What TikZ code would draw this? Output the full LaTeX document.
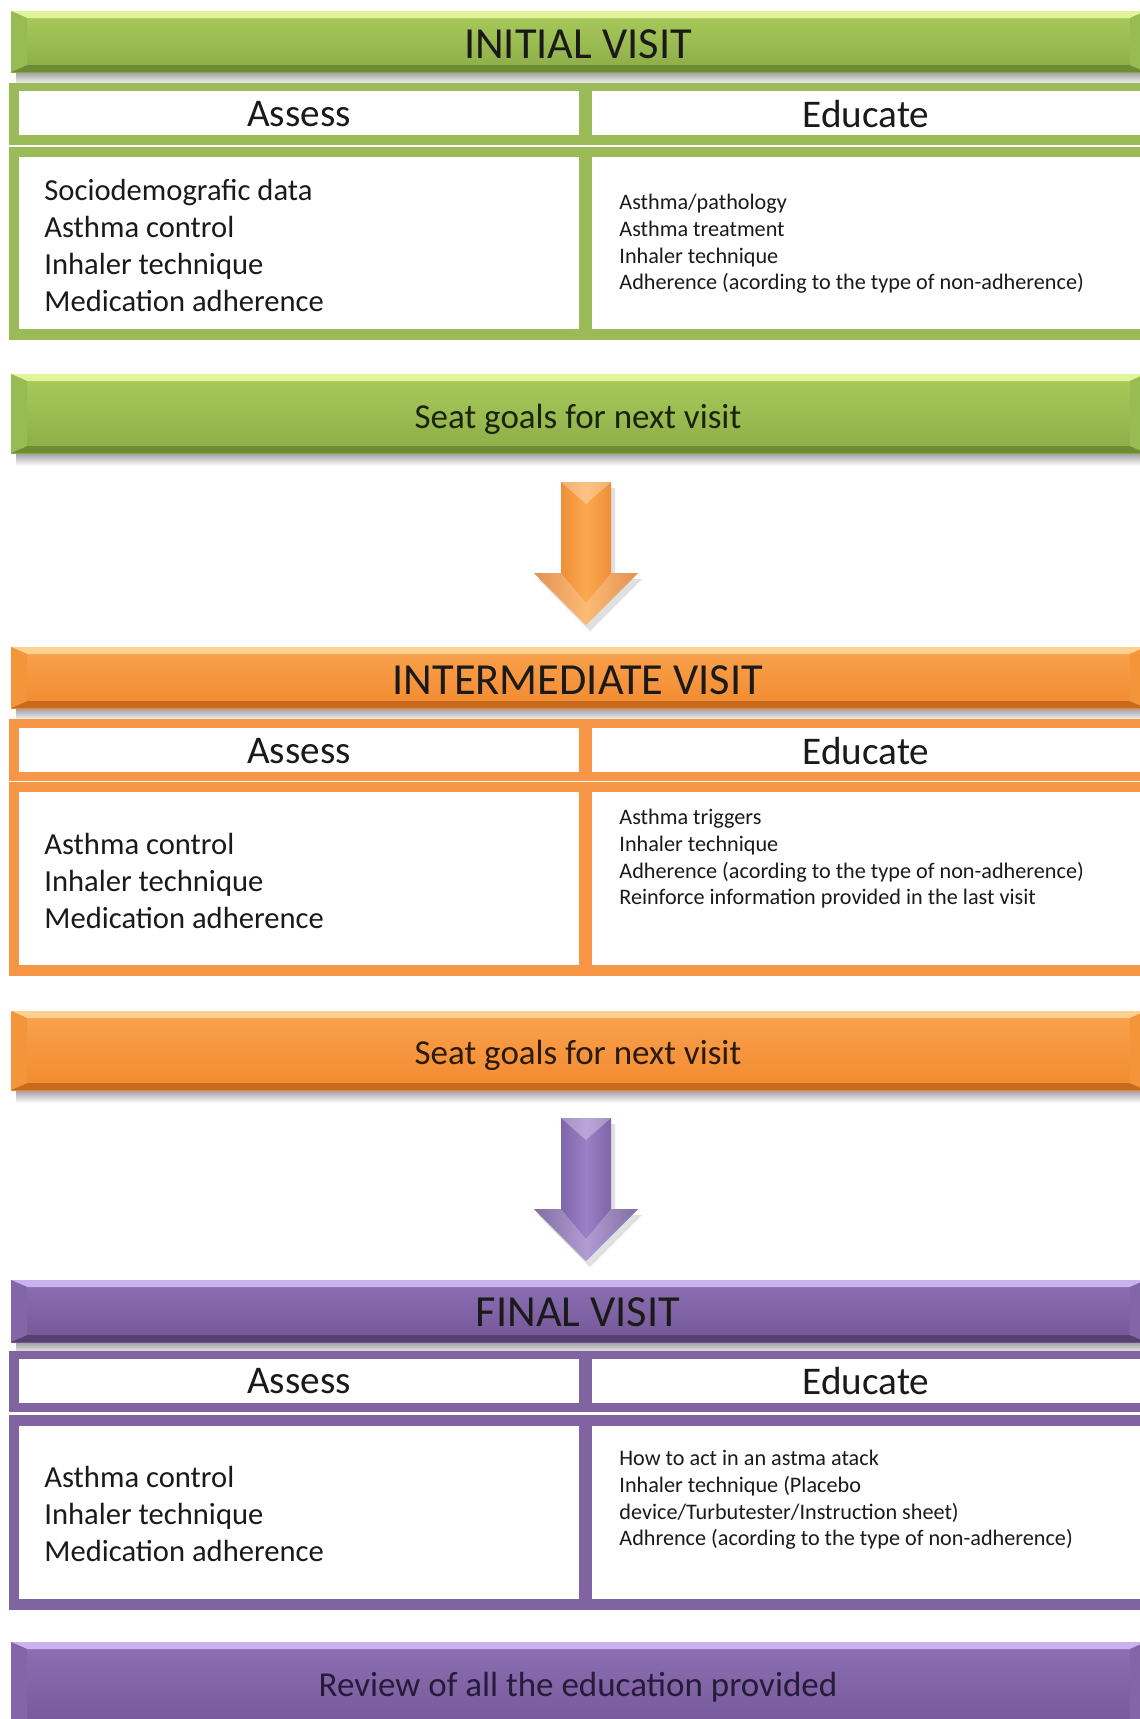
\documentclass[tikz,border=0pt]{standalone}
\usepackage{fontspec}
\setmainfont{Carlito}
\usetikzlibrary{calc}

% colour schemes: g = green, o = orange, p = purple
\definecolor{gFrame}{HTML}{9BBB59}
\definecolor{gTop}{HTML}{E2F49A}
\definecolor{gFaceA}{HTML}{A9CB5C}
\definecolor{gFaceB}{HTML}{8CAD47}
\definecolor{gBot}{HTML}{6E8C36}
\definecolor{gSide}{HTML}{98BB52}
\definecolor{gText}{HTML}{1A240C}

\definecolor{oFrame}{HTML}{F79646}
\definecolor{oTop}{HTML}{FFD08E}
\definecolor{oFaceA}{HTML}{FAA24E}
\definecolor{oFaceB}{HTML}{F28A30}
\definecolor{oBot}{HTML}{C86A1E}
\definecolor{oSide}{HTML}{F4953C}
\definecolor{oText}{HTML}{2A1A08}
\definecolor{oEdge}{HTML}{DC7420}
\definecolor{oMid}{HTML}{FCA84E}

\definecolor{pFrame}{HTML}{8064A2}
\definecolor{pTop}{HTML}{C9B2EE}
\definecolor{pFaceA}{HTML}{8C70B4}
\definecolor{pFaceB}{HTML}{735796}
\definecolor{pBot}{HTML}{55406F}
\definecolor{pSide}{HTML}{8266A8}
\definecolor{pText}{HTML}{261B38}
\definecolor{pEdge}{HTML}{5F4787}
\definecolor{pMid}{HTML}{9C80C8}

\definecolor{inkDark}{HTML}{1A1A1A}

% bevelled banner spanning the page width
\newcommand{\bevelbar}[3]{%
  \shade[top color=black!38, bottom color=white] (16,#3) rectangle (1146,#3+13);
  \shade[top color=#1FaceA, bottom color=#1FaceB] (11,#2) rectangle (1146,#3);
  \fill[#1Top] (11,#2) -- (1146,#2) -- (1130,#2+7) -- (27,#2+7) -- cycle;
  \fill[#1Bot] (11,#3) -- (1146,#3) -- (1130,#3-7) -- (27,#3-7) -- cycle;
  \fill[#1Side] (11,#2) -- (27,#2+7) -- (27,#3-7) -- (11,#3) -- cycle;
  \fill[#1Side] (1146,#2) -- (1130,#2+7) -- (1130,#3-7) -- (1146,#3) -- cycle;
}
% coloured frame holding two white cells
\newcommand{\cellframe}[5]{%
  \fill[#1Frame] (9,#2) rectangle (1150,#3);
  \fill[white] (19,#4) rectangle (579,#5);
  \fill[white] (592,#4) rectangle (1150,#5);
}
% bevelled block arrow pointing down from a top-centre coordinate
\newcommand{\blockdown}[2]{%
  \fill[black, opacity=0.12] ($(#1)+(4,6)$) -- ++(25,0) -- ++(0,91) -- ++(27,0)
     -- ++(-52,52) -- ++(-52,-52) -- ++(27,0) -- ++(0,-91) -- cycle;
  \shade[left color=#2Edge, right color=#2Edge, middle color=#2Mid] (#1)
     -- ++(25,0) -- ++(0,91) -- ++(27,0) -- ++(-52,52) -- ++(-52,-52)
     -- ++(27,0) -- ++(0,-91) -- cycle;
  \fill[white, opacity=0.30] (#1) -- ++(-25,0) -- ++(25,22) -- ++(25,-22) -- cycle;
  \fill[white, opacity=0.22] ($(#1)+(-52,91)$) -- ++(27,0) -- ++(25,30) -- ++(25,-30)
     -- ++(27,0) -- ++(-52,52) -- cycle;
}

\tikzset{
  hdrtext/.style={text=inkDark, font=\fontsize{22.2}{26}\selectfont, inner sep=0pt},
  celltitle/.style={text=inkDark, font=\fontsize{19.6}{23}\selectfont, inner sep=0pt},
  assesslist/.style={text=inkDark, anchor=west, align=left, inner sep=0pt,
    font=\fontsize{15.3}{18.5}\selectfont},
  educlist/.style={text=inkDark, anchor=west, align=left, inner sep=0pt,
    font=\fontsize{11.1}{13.35}\selectfont},
  goaltext/.style={inner sep=0pt, font=\fontsize{17.5}{21}\selectfont},
}

\begin{document}
\begin{tikzpicture}[x=0.5pt, y=-0.5pt]
\useasboundingbox (0,0) rectangle (1140,1719);
\clip (0,0) rectangle (1140,1719);
\fill[white] (0,0) rectangle (1140,1719);

% ---------------- initial visit ----------------
\bevelbar{g}{11}{72}
\node[hdrtext] (h1) at (578,44) {INITIAL VISIT};
\cellframe{g}{83}{145}{91}{135}
\node[celltitle] (as1) at (299,114) {Assess};
\node[celltitle] (ed1) at (866,114) {Educate};
\cellframe{g}{147}{340}{157}{329}
\node[assesslist] (al1) at (44,245) {Sociodemografic data\\Asthma control\\Inhaler technique\\Medication adherence};
\node[educlist] (el1) at (619,244) {Asthma/pathology\\Asthma treatment\\Inhaler technique\\Adherence (acording to the type of non-adherence)};
\bevelbar{g}{374}{453}
\node[goaltext, text=gText] (g1) at (578,419) {Seat goals for next visit};

\coordinate (ar1) at (586,482);
\blockdown{ar1}{o}

% ---------------- intermediate visit ----------------
\bevelbar{o}{647}{708}
\node[hdrtext] (h2) at (578,680) {INTERMEDIATE VISIT};
\cellframe{o}{719}{781}{728}{772}
\node[celltitle] (as2) at (299,751) {Assess};
\node[celltitle] (ed2) at (866,751) {Educate};
\cellframe{o}{782}{976}{792}{965}
\node[assesslist] (al2) at (44,881) {Asthma control\\Inhaler technique\\Medication adherence};
\node[educlist] (el2) at (619,859) {Asthma triggers\\Inhaler technique\\Adherence (acording to the type of non-adherence)\\Reinforce information provided in the last visit};
\bevelbar{o}{1011}{1090}
\node[goaltext, text=oText] (g2) at (578,1055) {Seat goals for next visit};

\coordinate (ar2) at (586,1118);
\blockdown{ar2}{p}

% ---------------- final visit ----------------
\bevelbar{p}{1280}{1342}
\node[hdrtext] (h3) at (578,1312) {FINAL VISIT};
\cellframe{p}{1351}{1412}{1359}{1403}
\node[celltitle] (as3) at (299,1381) {Assess};
\node[celltitle] (ed3) at (866,1381) {Educate};
\cellframe{p}{1415}{1610}{1426}{1599}
\node[assesslist] (al3) at (44,1514) {Asthma control\\Inhaler technique\\Medication adherence};
\node[educlist] (el3) at (619,1500) {How to act in an astma atack\\Inhaler technique (Placebo\\device/Turbutester/Instruction sheet)\\Adhrence (acording to the type of non-adherence)};
\bevelbar{p}{1642}{1735}
\node[goaltext, text=pText] (g3) at (578,1687) {Review of all the education provided};
\end{tikzpicture}
\end{document}
